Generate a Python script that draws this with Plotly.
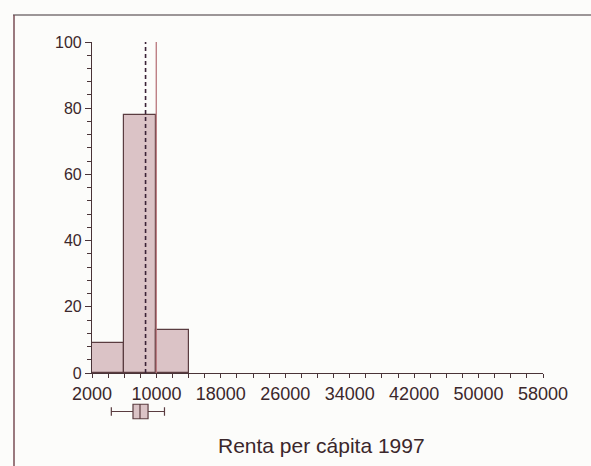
import plotly.graph_objects as go

# Histogram of per-capita income (percent of cases per bin)
bin_centers = [4000, 8000, 12000]
bin_width = 4000
percentages = [9, 78, 13]

# Reference lines drawn across the histogram
mean_value = 9980
median_value = 8650

# Box-plot summary shown under the axis
box_lowerfence = [4400]
box_q1 = [7090]
box_median = [7960]
box_q3 = [8960]
box_upperfence = [11000]

x_tickvals = [2000, 10000, 18000, 26000, 34000, 42000, 50000, 58000]
y_tickvals = [0, 20, 40, 60, 80, 100]

W, H = 591, 466
ink = "#3b272b"
axis_col = "#4a3438"
bar_fill = "#dbc3c6"
bar_line = "#5a3c40"

def px_x(p):
    return p / W

def px_y(p):
    return (H - p) / H

fig = go.Figure()

fig.add_trace(go.Bar(
    x=bin_centers, y=percentages, width=bin_width,
    marker=dict(color=bar_fill, line=dict(color=bar_line, width=1.2)),
    xaxis="x", yaxis="y", showlegend=False, hoverinfo="skip",
))

fig.add_trace(go.Scatter(
    x=[mean_value, mean_value], y=[0, 100], mode="lines",
    line=dict(color="#b9767c", width=1.3),
    xaxis="x", yaxis="y", showlegend=False, hoverinfo="skip",
))

fig.add_trace(go.Scatter(
    x=[median_value, median_value], y=[0, 100], mode="lines",
    line=dict(color="#3a2236", width=1.6, dash="4px,3px"),
    xaxis="x", yaxis="y", showlegend=False, hoverinfo="skip",
))

fig.add_trace(go.Box(
    y=[0], orientation="h",
    lowerfence=box_lowerfence, q1=box_q1, median=box_median,
    q3=box_q3, upperfence=box_upperfence,
    width=1.0, whiskerwidth=0.6, boxpoints=False,
    fillcolor=bar_fill, line=dict(color=bar_line, width=1.2),
    xaxis="x", yaxis="y2", showlegend=False, hoverinfo="skip",
))

fig.update_layout(
    template="none",
    width=W, height=H, autosize=False,
    margin=dict(l=0, r=0, t=0, b=0, pad=0),
    paper_bgcolor="#fcfcfa", plot_bgcolor="rgba(0,0,0,0)",
    bargap=0, showlegend=False,
    font=dict(family="Liberation Sans, Arial, sans-serif", color=ink),
    xaxis=dict(
        domain=[px_x(92), px_x(543)], range=[2000, 58000],
        anchor="y", automargin=False, tickmode="array", tickvals=x_tickvals,
        ticktext=[str(v) for v in x_tickvals],
        ticks="outside", ticklen=4, tickwidth=1, tickcolor=axis_col,
        minor=dict(dtick=2000, tick0=2000, ticks="outside", ticklen=4,
                   tickcolor=axis_col, tickwidth=1, showgrid=False),
        showline=True, linecolor=axis_col, linewidth=1.2,
        showgrid=False, zeroline=False,
        tickfont=dict(size=18, color=ink),
    ),
    yaxis=dict(
        domain=[px_y(373), px_y(42)], range=[0, 100],
        anchor="x", automargin=False, tickmode="array", tickvals=y_tickvals,
        ticks="outside", ticklen=6, tickwidth=1, tickcolor=axis_col,
        minor=dict(dtick=4, tick0=0, ticks="outside", ticklen=4,
                   tickcolor=axis_col, tickwidth=1, showgrid=False),
        showline=True, linecolor=axis_col, linewidth=1.2,
        showgrid=False, zeroline=False,
        tickfont=dict(size=16, color=ink),
    ),
    yaxis2=dict(
        domain=[px_y(426), px_y(397)], range=[-1, 1],
        anchor="x", automargin=False, visible=False,
        showgrid=False, zeroline=False,
    ),
    annotations=[dict(
        text="Renta per cápita 1997", xref="paper", yref="paper",
        x=px_x(321), y=px_y(445), xanchor="center", yanchor="middle",
        showarrow=False, font=dict(size=21, color=ink),
    )],
    shapes=[
        dict(type="line", xref="paper", yref="paper",
             x0=px_x(13), x1=1, y0=px_y(15), y1=px_y(15),
             line=dict(color="#7d7476", width=1.5)),
        dict(type="line", xref="paper", yref="paper",
             x0=px_x(14), x1=px_x(14), y0=px_y(15), y1=0,
             line=dict(color="#7a4e55", width=1.5)),
    ],
)

fig.write_html("out.html")
